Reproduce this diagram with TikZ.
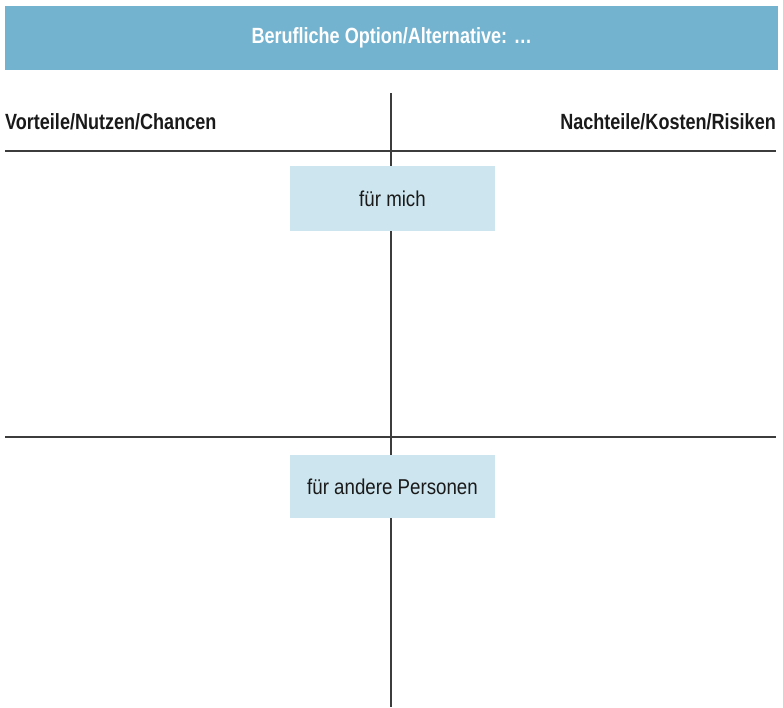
\documentclass[tikz,border=0pt]{standalone}
\usepackage{fontspec}
\setmainfont{Liberation Sans}[FakeStretch=0.82]
\newfontfamily\regfont{Liberation Sans}[FakeStretch=0.87]
\definecolor{headblue}{HTML}{74B3CF}
\definecolor{boxblue}{HTML}{CDE5EE}
\definecolor{linegray}{HTML}{3C3C3C}
\definecolor{txt}{HTML}{1A1A1A}
\begin{document}
\begin{tikzpicture}[x=1pt,y=-1pt,
  rule/.style={draw=linegray,line width=1.5pt},
  catbox/.style={fill=boxblue,draw=none,minimum width=205pt,minimum height=65pt,inner sep=0pt,
     font=\regfont\fontsize{21.5}{24}\selectfont,text=txt},
  colhead/.style={inner sep=0pt,font=\fontsize{22}{24}\selectfont\bfseries,text=txt}]
\useasboundingbox (0,0) rectangle (783,707);
\node[fill=headblue,minimum width=773pt,minimum height=64pt,inner sep=0pt,anchor=north west,
  font=\fontsize{22}{24}\selectfont\bfseries,text=white] (title) at (5,6) {Berufliche Option/Alternative: …};
\coordinate (vtop) at (391,93);
\coordinate (vbot) at (391,707);
\coordinate (h1l) at (5,151);
\coordinate (h1r) at (776,151);
\coordinate (h2l) at (5,437);
\coordinate (h2r) at (776,437);
\draw[rule] (vtop) -- (vbot);
\draw[rule] (h1l) -- (h1r);
\draw[rule] (h2l) -- (h2r);
\node[colhead,anchor=base west] (pro) at (5,129) {Vorteile/Nutzen/Chancen};
\node[colhead,anchor=base east] (contra) at (776,129) {Nachteile/Kosten/Risiken};
\node[catbox] (me) at (392.5,198.5) {für mich};
\node[catbox,minimum height=63pt] (others) at (392.5,486.5) {für andere Personen};
\end{tikzpicture}
\end{document}
